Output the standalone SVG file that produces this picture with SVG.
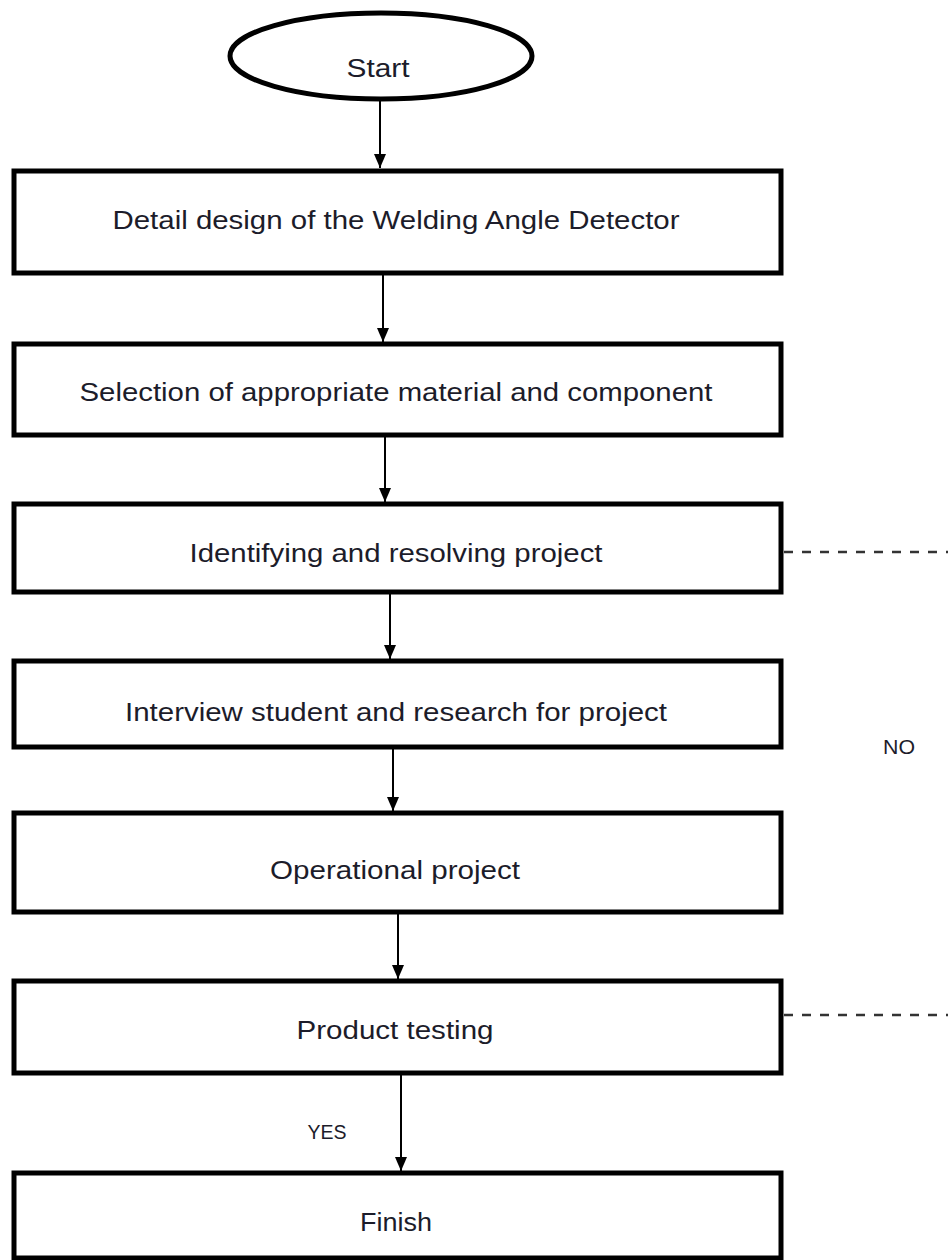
<svg xmlns="http://www.w3.org/2000/svg" width="948" height="1260" viewBox="0 0 948 1260">
<style>
.box{fill:#fff;stroke:#000;stroke-width:5}
.t{font-family:"Liberation Sans",Arial,sans-serif;font-size:25px;fill:#1c1c2a;text-anchor:middle}
.s{font-family:"Liberation Sans",Arial,sans-serif;font-size:20px;fill:#1c1c2a;text-anchor:middle}
.c{stroke:#000;stroke-width:2;fill:none}
.d{stroke:#333;stroke-width:2.5;stroke-dasharray:9,9;fill:none}
</style>
<defs>
<marker id="arr" viewBox="0 0 14 12" refX="14" refY="6" markerWidth="14" markerHeight="12" markerUnits="userSpaceOnUse" orient="auto">
<path d="M0,0 L14,6 L0,12 Z" fill="#000"/>
</marker>
</defs>
<g id="connectors">
<line class="c" x1="380" y1="100" x2="380" y2="168" marker-end="url(#arr)"/>
<line class="c" x1="383" y1="273" x2="383" y2="342" marker-end="url(#arr)"/>
<line class="c" x1="385" y1="435" x2="385" y2="502" marker-end="url(#arr)"/>
<line class="c" x1="390" y1="592" x2="390" y2="659" marker-end="url(#arr)"/>
<line class="c" x1="393" y1="747" x2="393" y2="811" marker-end="url(#arr)"/>
<line class="c" x1="398" y1="912" x2="398" y2="979" marker-end="url(#arr)"/>
<line class="c" x1="401" y1="1073" x2="401" y2="1171" marker-end="url(#arr)"/>
<line class="d" x1="784" y1="552" x2="948" y2="552"/>
<line class="d" x1="784" y1="1015" x2="948" y2="1015"/>
<text class="s" x="899" y="754" textLength="32" lengthAdjust="spacingAndGlyphs">NO</text>
<text class="s" x="327" y="1139" textLength="39" lengthAdjust="spacingAndGlyphs">YES</text>
</g>
<g id="start">
<ellipse cx="381" cy="56" rx="151" ry="43" fill="#fff" stroke="#000" stroke-width="5"/>
<text class="t" x="378" y="77" textLength="63" lengthAdjust="spacingAndGlyphs">Start</text>
</g>
<g id="n1">
<rect class="box" x="14" y="171" width="767" height="102"/>
<text class="t" x="396" y="229" textLength="567" lengthAdjust="spacingAndGlyphs">Detail design of the Welding  Angle Detector</text>
</g>
<g id="n2">
<rect class="box" x="14" y="344" width="767" height="91"/>
<text class="t" x="396" y="401" textLength="633" lengthAdjust="spacingAndGlyphs">Selection of appropriate material and component</text>
</g>
<g id="n3">
<rect class="box" x="14" y="504" width="767" height="88"/>
<text class="t" x="396" y="562" textLength="413" lengthAdjust="spacingAndGlyphs">Identifying  and resolving project</text>
</g>
<g id="n4">
<rect class="box" x="14" y="661" width="767" height="86"/>
<text class="t" x="396" y="721" textLength="542" lengthAdjust="spacingAndGlyphs">Interview student and research for project</text>
</g>
<g id="n5">
<rect class="box" x="14" y="813" width="767" height="99"/>
<text class="t" x="395" y="879" textLength="250" lengthAdjust="spacingAndGlyphs">Operational  project</text>
</g>
<g id="n6">
<rect class="box" x="14" y="981" width="767" height="92"/>
<text class="t" x="395" y="1039" textLength="197" lengthAdjust="spacingAndGlyphs">Product  testing</text>
</g>
<g id="n7">
<rect class="box" x="14" y="1173" width="767" height="85"/>
<text class="t" x="396" y="1231" textLength="72" lengthAdjust="spacingAndGlyphs">Finish</text>
</g>
</svg>
